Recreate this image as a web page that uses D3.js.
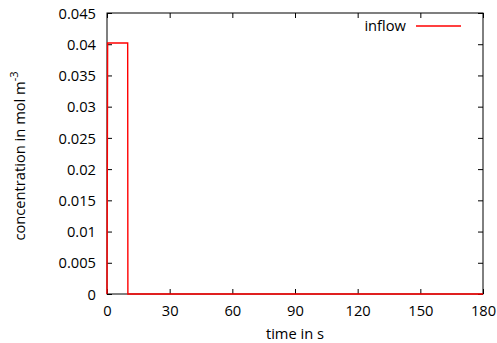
<!DOCTYPE html>
<html>
<head>
<meta charset="utf-8">
<script src="https://cdn.jsdelivr.net/npm/d3@7"></script>
<style>
  body { margin: 0; background: #fff; }
  svg text { font-family: "Open Sans", sans-serif; font-size: 14.7px; fill: #000; }
</style>
</head>
<body>
<div id="chart"></div>
<script>
// données
var times = [0, 0.3, 9.9, 10, 180];
var inflow = [0, 0.0402, 0.0402, 0, 0];
var xTicks = [0, 30, 60, 90, 120, 150, 180];
var yTicks = [0, 0.005, 0.01, 0.015, 0.02, 0.025, 0.03, 0.035, 0.04, 0.045];

var W = 497, H = 343;
var pLeft = 107, pRight = 483, pTop = 13, pBottom = 294;

var svg = d3.select("#chart").append("svg")
  .attr("width", W)
  .attr("height", H);

var x = d3.scaleLinear().domain([0, 180]).range([pLeft, pRight]);
var y = d3.scaleLinear().domain([0, 0.045]).range([pBottom, pTop]);

// ticks à l'intérieur, comme gnuplot
var gx = svg.append("g").attr("transform", "translate(0," + pBottom + ")")
  .call(d3.axisBottom(x).tickValues(xTicks).tickSize(-5).tickFormat(d3.format("d")));
var gxTop = svg.append("g").attr("transform", "translate(0," + pTop + ")")
  .call(d3.axisTop(x).tickValues(xTicks).tickSize(-5).tickFormat(""));
var gy = svg.append("g").attr("transform", "translate(" + pLeft + ",0)")
  .call(d3.axisLeft(y).tickValues(yTicks).tickSize(-5).tickFormat(function (d) {
    return d === 0 ? "0" : d3.format(".3~f")(d);
  }));
var gyR = svg.append("g").attr("transform", "translate(" + pRight + ",0)")
  .call(d3.axisRight(y).tickValues(yTicks).tickSize(-5).tickFormat(""));

[gx, gxTop, gy, gyR].forEach(function (g) {
  g.select(".domain").remove();
  g.selectAll("line").attr("stroke", "#000").attr("stroke-width", 1);
  g.selectAll("text").attr("font-family", null).attr("font-size", null);
});
gy.selectAll("text").attr("x", -11).attr("dy", "0.35em");
gx.selectAll("text").attr("y", 0).attr("dy", 0).attr("transform", "translate(0,22)");

svg.append("rect")
  .attr("x", pLeft).attr("y", pTop)
  .attr("width", pRight - pLeft).attr("height", pBottom - pTop)
  .attr("fill", "none").attr("stroke", "#000").attr("stroke-width", 1);

var pts = times.map(function (t, i) { return [t, inflow[i]]; });
svg.append("path")
  .datum(pts)
  .attr("fill", "none")
  .attr("stroke", "#ff0000")
  .attr("stroke-width", 1.4)
  .attr("d", d3.line().x(function (d) { return x(d[0]); }).y(function (d) { return y(d[1]); }));

// légende
svg.append("text").attr("x", 406).attr("y", 31).attr("text-anchor", "end").text("inflow");
svg.append("line").attr("x1", 416).attr("x2", 461).attr("y1", 26).attr("y2", 26)
  .attr("stroke", "#ff0000").attr("stroke-width", 1.4);

// titres des axes
svg.append("text").attr("x", 295).attr("y", 339).attr("text-anchor", "middle").text("time in s");
var yl = svg.append("text").attr("transform", "translate(25," + 156 + ") rotate(-90)")
  .attr("text-anchor", "middle");
yl.append("tspan").text("concentration in mol m");
yl.append("tspan").attr("dy", -7).style("font-size", "11px").text("-3");
</script>
</body>
</html>
